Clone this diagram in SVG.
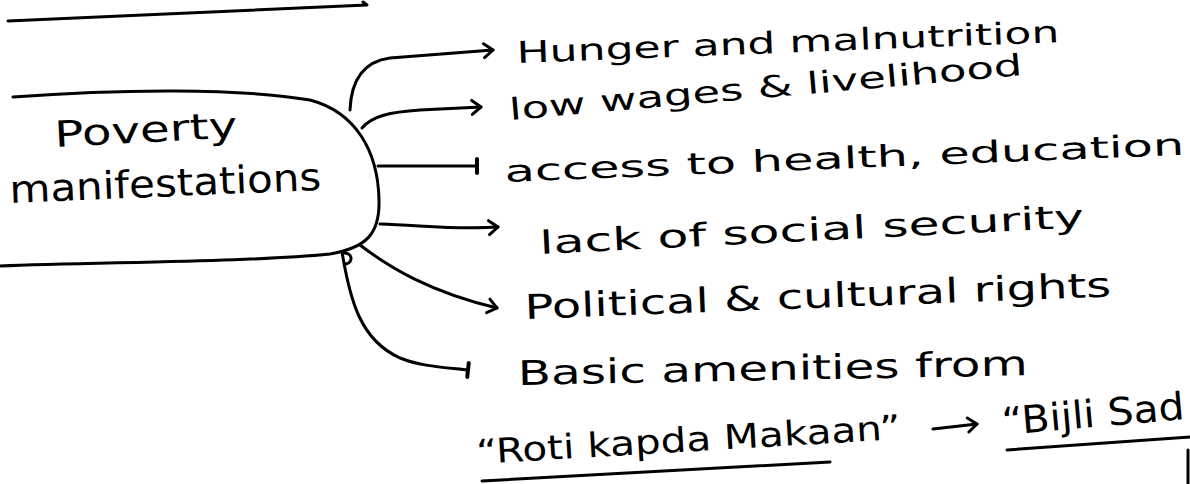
<svg xmlns="http://www.w3.org/2000/svg" width="1190" height="484" viewBox="0 0 1190 484">
  <style>
    .ink { fill: none; stroke: #000; stroke-width: 3; stroke-linecap: round; stroke-linejoin: round; }
    .hw { font-family: "DejaVu Sans", "Liberation Sans", sans-serif; fill: #000; }
  </style>
  <defs>
    <marker id="arrow" markerUnits="userSpaceOnUse" markerWidth="20" markerHeight="20" refX="12" refY="10" orient="auto" viewBox="0 0 20 20">
      <path d="M3,3 L12,10 L3,17" fill="none" stroke="#000" stroke-width="3" stroke-linecap="round" stroke-linejoin="round"/>
    </marker>
    <marker id="tick" markerUnits="userSpaceOnUse" markerWidth="20" markerHeight="24" refX="10" refY="12" orient="auto" viewBox="0 0 20 24">
      <path d="M10,5 L10,19" fill="none" stroke="#000" stroke-width="4" stroke-linecap="round"/>
    </marker>
  </defs>
  <rect width="1190" height="484" fill="#fff"/>

  <!-- decorative rule lines -->
  <path class="ink" d="M8 21 L367 5 L363 2"/>
  <path class="ink" d="M482 481 L830 462"/>
  <path class="ink" d="M1007 450 L1190 437"/>
  <path class="ink" d="M1188 450 L1188 484"/>

  <g id="node-poverty">
    <path class="ink" d="M13 97 C120 89, 240 88, 310 100 C355 112, 378 150, 379 200 C380 235, 365 248, 330 254 C250 262, 100 262, 0 266"/>
    <text class="hw" x="55" y="147" font-size="36" textLength="183" lengthAdjust="spacingAndGlyphs" transform="rotate(-3 55 147)">Poverty</text>
    <text class="hw" x="10" y="203" font-size="38" textLength="312" lengthAdjust="spacingAndGlyphs" transform="rotate(-2.4 10 203)">manifestations</text>
  </g>

  <g id="connectors">
    <path class="ink" marker-end="url(#arrow)" d="M350 110 C351 85, 360 62, 390 58 L493 50"/>
    <path class="ink" marker-end="url(#arrow)" d="M362 128 C372 116, 390 112, 420 110 L481 107"/>
    <path class="ink" marker-end="url(#tick)" d="M378 166 L477 166"/>
    <path class="ink" marker-end="url(#arrow)" d="M380 224 C420 225, 455 230, 498 227"/>
    <path class="ink" marker-end="url(#arrow)" d="M360 245 C390 268, 430 292, 497 308"/>
    <path class="ink" d="M343 253 C352 252, 354 262, 346 264"/>
    <path class="ink" marker-end="url(#tick)" d="M342 252 C350 300, 360 340, 400 358 C420 366, 440 367, 468 370"/>
    <path class="ink" marker-end="url(#arrow)" d="M933 429 L977 424"/>
  </g>

  <g id="item-hunger">
    <text class="hw" x="517" y="63" font-size="30" textLength="543" lengthAdjust="spacingAndGlyphs" transform="rotate(-2.2 517 63)">Hunger and malnutrition</text>
  </g>
  <g id="item-wages">
    <text class="hw" x="510" y="120" font-size="30" textLength="515" lengthAdjust="spacingAndGlyphs" transform="rotate(-5 510 120)">low wages &amp; livelihood</text>
  </g>
  <g id="item-access">
    <text class="hw" x="505" y="182" font-size="30" textLength="680" lengthAdjust="spacingAndGlyphs" transform="rotate(-2.3 505 182)">access to health, education</text>
  </g>
  <g id="item-security">
    <text class="hw" x="540" y="254" font-size="32" textLength="545" lengthAdjust="spacingAndGlyphs" transform="rotate(-2.8 540 254)">lack of social security</text>
  </g>
  <g id="item-rights">
    <text class="hw" x="525" y="319" font-size="34" textLength="587" lengthAdjust="spacingAndGlyphs" transform="rotate(-2.2 525 319)">Political &amp; cultural rights</text>
  </g>
  <g id="item-amenities">
    <text class="hw" x="518" y="385" font-size="34" textLength="510" lengthAdjust="spacingAndGlyphs" transform="rotate(-1.1 518 385)">Basic amenities from</text>
  </g>
  <g id="item-roti">
    <text class="hw" x="477" y="464" font-size="34" textLength="425" lengthAdjust="spacingAndGlyphs" transform="rotate(-3.4 477 464)">“Roti kapda Makaan”</text>
  </g>
  <g id="item-bijli">
    <text class="hw" x="1003" y="435" font-size="38" textLength="183" lengthAdjust="spacingAndGlyphs" transform="rotate(-5 1003 435)">“Bijli Sad</text>
  </g>
</svg>
